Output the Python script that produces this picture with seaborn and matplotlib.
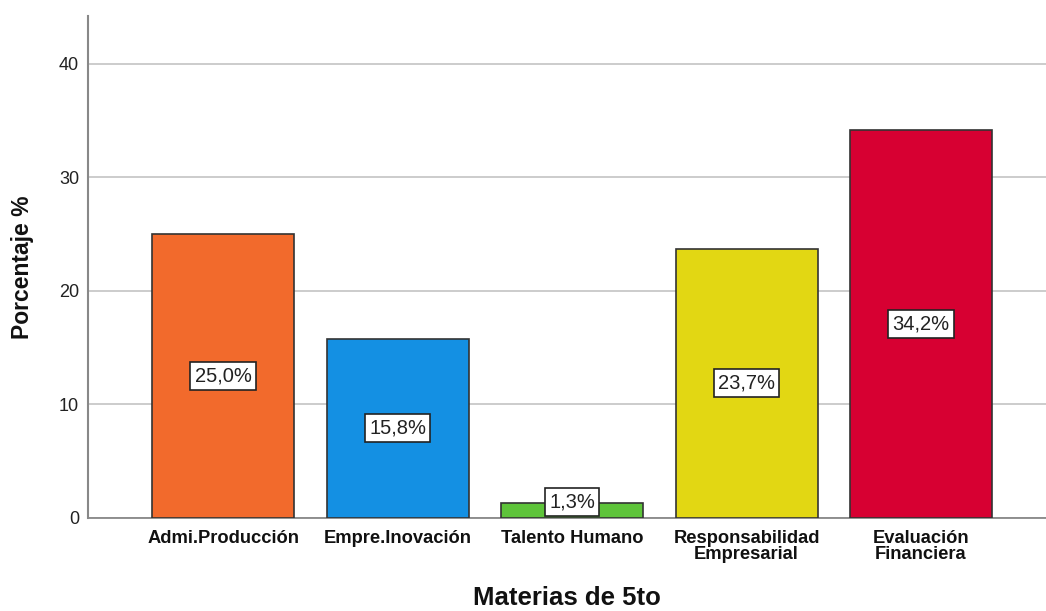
import matplotlib
matplotlib.use("Agg")
import matplotlib.pyplot as plt
import seaborn as sns
import pandas as pd

categories = ["Admi.Producción", "Empre.Inovación", "Talento Humano",
              "Responsabilidad\nEmpresarial", "Evaluación\nFinanciera"]
values = [25.0, 15.8, 1.3, 23.7, 34.2]
labels = ["25,0%", "15,8%", "1,3%", "23,7%", "34,2%"]
colors = ["#F26A2C", "#1490E3", "#5EC43A", "#E2D713", "#D70032"]
yticks = [0, 10, 20, 30, 40]

sns.set_theme(style="white")
plt.rcParams['font.family'] = ['Liberation Sans', 'DejaVu Sans']

df = pd.DataFrame({"cat": categories, "val": values})

fig = plt.figure(figsize=(10.46, 6.11), dpi=100)
ax = fig.add_axes([88/1046, (611-518)/611, 1 - 88/1046, (518-16)/611])

sns.barplot(data=df, x="cat", y="val", hue="cat", palette=colors, legend=False,
            width=0.814, edgecolor="#333333", linewidth=1.2, saturation=1, ax=ax, zorder=3)

ax.set_ylim(0, 44.2)
ax.set_xlim(-0.774, 4.716)
ax.set_yticks(yticks)
ax.yaxis.grid(True, color="#c8c8c8", linewidth=1.3, zorder=0)
ax.set_axisbelow(True)
ax.tick_params(axis="both", length=0)
ax.tick_params(axis="y", labelsize=13, pad=6.5, colors="#222222")
ax.tick_params(axis="x", pad=8.5)
for t in ax.get_xticklabels():
    t.set_fontweight("bold")
    t.set_fontsize(13.2)
    t.set_linespacing(0.9)
    t.set_verticalalignment("top")
    t.set_color("#111111")

for s in ["top", "right"]:
    ax.spines[s].set_visible(False)
ax.spines["left"].set_color("#888888")
ax.spines["left"].set_linewidth(1.5)
ax.spines["bottom"].set_color("#888888")
ax.spines["bottom"].set_linewidth(1.3)

for i, (v, lab) in enumerate(zip(values, labels)):
    y = max(v / 2, 1.38)
    ax.text(i, y, lab, ha="center", va="center", fontsize=14.5, color="#222222", zorder=5,
            bbox=dict(boxstyle="square,pad=0.22", facecolor="white", edgecolor="#222222", linewidth=1.2))

ax.set_xlabel("Materias de 5to", fontsize=18.5, fontweight="bold", color="#111111")
ax.xaxis.label.set_verticalalignment("baseline")
ax.xaxis.set_label_coords(0.5, (518 - 605) / 502)
ax.set_ylabel("Porcentaje %", fontsize=16.5, fontweight="bold", color="#111111")
ax.yaxis.label.set_verticalalignment("center")
ax.yaxis.set_label_coords((22 - 88) / 958, 0.5)

fig.savefig("out.png", dpi=100)
